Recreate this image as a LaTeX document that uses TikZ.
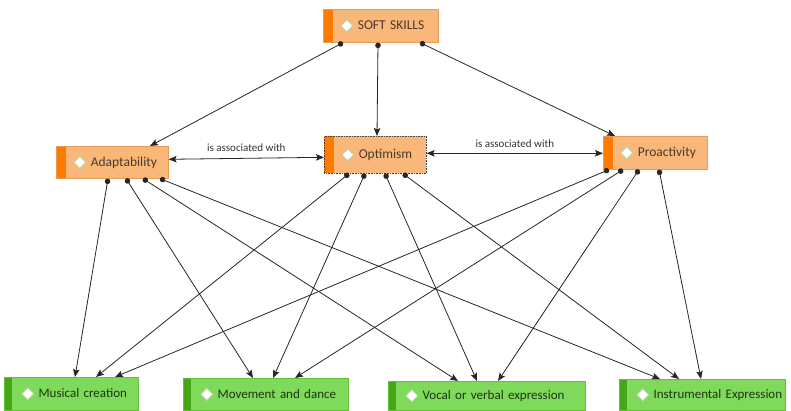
\documentclass[tikz,border=0pt]{standalone}
\usepackage{fontspec}
\setmainfont{Carlito}
\usetikzlibrary{arrows.meta,calc}
\definecolor{orfill}{HTML}{F9B779}
\definecolor{ordraw}{HTML}{E99B55}
\definecolor{orstripe}{HTML}{FF7B00}
\definecolor{ortext}{HTML}{4A3A2C}
\definecolor{grfill}{HTML}{7FD95A}
\definecolor{grdraw}{HTML}{62C236}
\definecolor{grstripe}{HTML}{45A61A}
\definecolor{grtext}{HTML}{1E3512}
\definecolor{lin}{HTML}{262626}
\definecolor{diamedge}{HTML}{B9D9A0}
\newcommand{\dmd}{\tikz[baseline=-4pt]\filldraw[fill=white,draw=diamedge,line width=1pt] (0pt,6pt)--(6pt,0pt)--(0pt,-6pt)--(-6pt,0pt)--cycle;}
\tikzset{
  basebox/.style={rectangle, anchor=north west, inner xsep=17pt, inner ysep=0pt, align=left, line width=0.6pt},
  orbox/.style={basebox, fill=orfill, draw=ordraw, text=ortext, font=\fontsize{13.5}{15}\selectfont,
    path picture={\fill[orstripe] (path picture bounding box.north west) rectangle ([xshift=10pt]path picture bounding box.south west);}},
  grbox/.style={basebox, fill=grfill, draw=grdraw, text=grtext, font=\fontsize{13}{15}\selectfont,
    path picture={\fill[grstripe] (path picture bounding box.north west) rectangle ([xshift=8pt]path picture bounding box.south west);}},
  conn/.style={draw=lin, line width=0.8pt, {Circle[length=5.5pt]}-{Stealth[length=8pt,width=6.5pt,inset=1.5pt]}},
  bidir/.style={draw=lin, line width=0.8pt, {Stealth[length=8pt,width=6.5pt,inset=1.5pt]}-{Stealth[length=8pt,width=6.5pt,inset=1.5pt]}},
  assoc/.style={font=\fontsize{11}{13}\selectfont, text=black!80, inner sep=1pt}
}
\begin{document}
\begin{tikzpicture}[x=1pt,y=-1pt]
\useasboundingbox (0,0) rectangle (791,410);
% orange nodes
\node[orbox, text width=81pt, minimum height=33pt] (soft) at (323,9) {\mbox{\dmd\ SOFT SKILLS}};
\node[orbox, text width=78pt, minimum height=32pt] (adapt) at (56,146) {\mbox{\dmd\ Adaptability}};
\node[orbox, text width=68pt, minimum height=37pt, draw=black!75, densely dotted] (optim) at (324,136) {\mbox{\dmd\ Optimism}};
\node[orbox, text width=70pt, minimum height=33pt] (proact) at (603,136) {\mbox{\dmd\ Proactivity}};
% green nodes
\node[grbox, text width=100pt, minimum height=33pt] (music) at (4,377) {\mbox{\dmd\ Musical creation}};
\node[grbox, text width=131pt, minimum height=32pt] (move) at (183,378) {\mbox{\dmd\ Movement and dance}};
\node[grbox, text width=163pt, minimum height=29pt] (vocal) at (388,381) {\mbox{\dmd\ Vocal or verbal expression}};
\node[grbox, text width=132pt, minimum height=31pt] (instr) at (619,379) {\mbox{\dmd\ Instrumental Expression}};
% soft skills to attributes
\draw[conn] ([xshift=20pt]soft.south west) -- ([xshift=94pt]adapt.north west);
\draw[conn] ([xshift=55pt]soft.south west) -- ([xshift=53pt]optim.north west);
\draw[conn] ([xshift=97pt]soft.south west) -- ([xshift=12pt]proact.north west);
% associations
\draw[bidir] ([yshift=3pt]adapt.east) -- node[assoc, above=5pt, pos=0.5] (l1) {is associated with} ([yshift=-2.5pt]optim.west);
\draw[bidir] ([yshift=1.5pt]optim.east) -- node[assoc, above=4pt, pos=0.5] (l2) {is associated with} ([yshift=-0.5pt]proact.west);
% adaptability
\draw[conn] ([xshift=52pt]adapt.south west) -- ([xshift=71pt]music.north west);
\draw[conn] ([xshift=70pt]adapt.south west) -- ([xshift=70pt]move.north west);
\draw[conn] ([xshift=87pt]adapt.south west) -- ([xshift=70pt]vocal.north west);
\draw[conn] ([xshift=104pt]adapt.south west) -- ([xshift=41pt]instr.north west);
% optimism
\draw[conn] ([xshift=25pt]optim.south west) -- ([xshift=92pt]music.north west);
\draw[conn] ([xshift=41pt]optim.south west) -- ([xshift=90pt]move.north west);
\draw[conn] ([xshift=61pt]optim.south west) -- ([xshift=89pt]vocal.north west);
\draw[conn] ([xshift=79pt]optim.south west) -- ([xshift=60pt]instr.north west);
% proactivity
\draw[conn] ([xshift=6pt]proact.south west) -- ([xshift=111pt]music.north west);
\draw[conn] ([xshift=20pt]proact.south west) -- ([xshift=112pt]move.north west);
\draw[conn] ([xshift=36pt]proact.south west) -- ([xshift=110pt]vocal.north west);
\draw[conn] ([xshift=56pt]proact.south west) -- ([xshift=82pt]instr.north west);
\end{tikzpicture}
\end{document}
